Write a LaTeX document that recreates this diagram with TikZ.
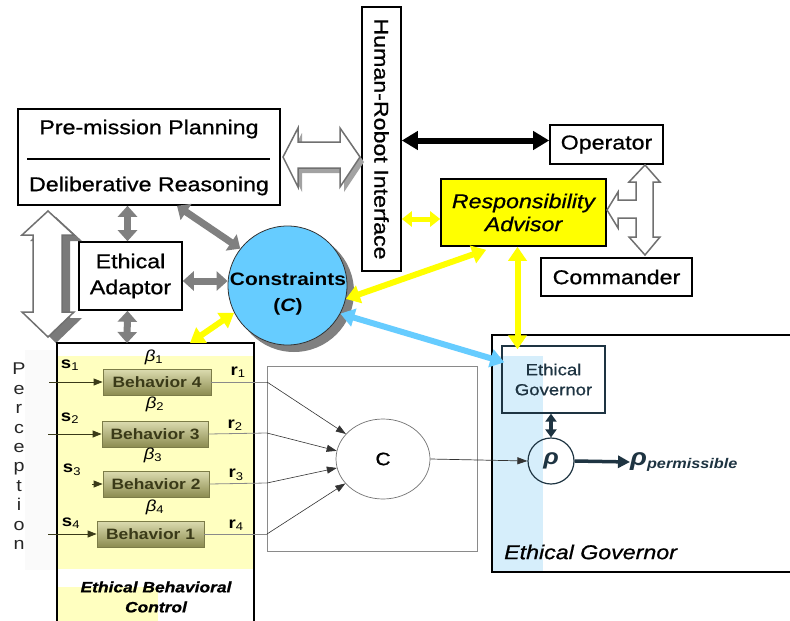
\documentclass[tikz,border=0pt]{standalone}
\usepackage{fontspec}
\setmainfont[FakeStretch=1.16]{Liberation Sans}
\newfontfamily\heavyfont[FakeStretch=1.16,FakeBold=0.8]{Liberation Sans}
\usetikzlibrary{arrows.meta,shapes.geometric,calc}

\definecolor{arrgray}{HTML}{808080}
\definecolor{hollowgray}{HTML}{707070}
\definecolor{shadowgray}{HTML}{7A7A7A}
\definecolor{consblue}{HTML}{66CCFF}
\definecolor{stripblue}{HTML}{D6EEFB}
\definecolor{egdark}{HTML}{1E3442}
\definecolor{ebcyellow}{HTML}{FFFFC0}
\definecolor{behtop}{HTML}{DCDCB0}
\definecolor{behbot}{HTML}{8C8C50}
\definecolor{behline}{HTML}{7C7C48}
\definecolor{behtext}{HTML}{3A3A18}
\definecolor{advyellow}{HTML}{FFFF00}
\definecolor{wirgray}{HTML}{8A8A8A}

\newcommand\labfont{\heavyfont\fontsize{20}{24}\selectfont}
\newcommand\midfont{\heavyfont\fontsize{16}{19}\selectfont}

\tikzset{
  box/.style={draw=black, line width=1.6pt, fill=white, inner sep=0pt},
  lbl/.style={inner sep=0pt, font=\labfont},
  grayarr/.style={draw=arrgray, line width=7pt,
    {Triangle[width=19pt,length=11pt]}-{Triangle[width=19pt,length=11pt]}},
  blackarr/.style={draw=black, line width=6pt,
    {Triangle[width=18pt,length=16pt]}-{Triangle[width=18pt,length=16pt]}},
  yelarr/.style={draw=advyellow, line width=6pt,
    {Triangle[width=18pt,length=14pt]}-{Triangle[width=18pt,length=14pt]}},
  smallyel/.style={draw=advyellow, line width=5pt,
    {Triangle[width=15pt,length=10pt]}-{Triangle[width=15pt,length=10pt]}},
  bluearr/.style={draw=consblue, line width=6pt,
    {Triangle[width=18pt,length=14pt]}-{Triangle[width=18pt,length=14pt]}},
  behbox/.style={draw=behline, line width=0.8pt, top color=behtop,
    bottom color=behbot, minimum height=26pt, inner sep=0pt,
    font=\fontsize{15}{18}\selectfont\bfseries, text=behtext},
  inwire/.style={draw=behtext, line width=0.8pt,
    -{Triangle[width=7pt,length=9pt]}},
  sumwire/.style={draw=black!80, line width=0.6pt,
    -{Triangle[width=7pt,length=10pt]}},
  hollow/.style={fill=white, draw=hollowgray, line width=1.5pt, line join=miter},
  sublbl/.style={inner sep=0pt, font=\fontsize{16}{19}\selectfont},
}

\begin{document}
\begin{tikzpicture}[x=1pt,y=-1pt]
\useasboundingbox (0,0) rectangle (790,621);
\fill[white] (0,0) rectangle (790,621);

% ---------- upper layer boxes ----------
\node[box, minimum width=262pt, minimum height=96pt] (plan) at (149,157) {};
\node[lbl] (plantop) at (149,129) {Pre-mission Planning};
\node[lbl] (planbot) at (149,186) {Deliberative Reasoning};
\draw[line width=2pt] (27,159) -- (270,159);

\node[box, minimum width=39pt, minimum height=264pt] (hri) at (381.5,139) {};
\node[lbl, rotate=-90] (hritxt) at (hri.center) {Human-Robot Interface};

\node[box, minimum width=113pt, minimum height=39pt, font=\labfont] (oper) at (606.5,144.5) {Operator};
\node[box, minimum width=151pt, minimum height=38pt, font=\labfont] (comm) at (616.5,277) {Commander};
\node[box, fill=advyellow, minimum width=165pt, minimum height=67pt,
      align=center, font=\labfont\itshape] (adv) at (523.5,212.5)
      {Responsibility\\[-1pt]Advisor};

\node[box, minimum width=103pt, minimum height=68pt, align=center,
      font=\labfont] (ea) at (130.5,276) {Ethical\\[2pt]Adaptor};

% ---------- hollow block arrows ----------
\fill[shadowgray!70] (287,162) -- (302,133) -- (302,147) -- (344,147) -- (344,133)
   -- (364,162) -- (344,192) -- (344,173) -- (302,173) -- (302,192) -- cycle;
\path[hollow] (283,157) -- (298,128) -- (298,142) -- (340,142) -- (340,128)
   -- (360,157) -- (340,187) -- (340,168) -- (298,168) -- (298,187) -- cycle;

\fill[shadowgray] (56,217) -- (82,241) -- (70,241) -- (70,318) -- (82,318)
   -- (56,343) -- (30,318) -- (41,318) -- (41,241) -- (30,241) -- cycle;
\path[hollow] (48,211) -- (74,235) -- (62,235) -- (62,312) -- (74,312)
   -- (48,337) -- (22,312) -- (33,312) -- (33,235) -- (22,235) -- cycle;

\path[hollow] (645,165) -- (660,182) -- (653,182) -- (653,237) -- (660,237)
   -- (645,255) -- (629,237) -- (636,237) -- (636,218) -- (618,218)
   -- (618,228) -- (607,210) -- (618,192) -- (618,200) -- (636,200)
   -- (636,182) -- (629,182) -- cycle;

% ---------- constraints ----------
\fill[arrgray] (294,292) circle (60);
\node[circle, draw=black!80, line width=0.8pt, fill=consblue,
      minimum size=119pt, inner sep=0pt] (cons) at (287.5,285.5) {};
\node[align=center, inner sep=0pt, font=\fontsize{18}{26}\selectfont\bfseries]
      (constxt) at (288,294) {Constraints\\(\textit{C})};

% ---------- ethical behavioral control ----------
\fill[black!2] (25,350) rectangle (57,570);
\fill[ebcyellow] (57,356) rectangle (254,569);
\fill[ebcyellow] (58,587) rectangle (158,625);
\draw[line width=2pt] (57,630) -- (57,343) -- (254,343) -- (254,630);
\coordinate (ebctop) at (127,343);
\coordinate (ebcyel) at (190,343);
\node[align=center, inner sep=0pt, font=\heavyfont\fontsize{15}{20}\selectfont\bfseries\itshape]
      (ebctxt) at (156,597) {Ethical Behavioral\\Control};

\node[anchor=north, align=center, inner sep=0pt, text=black!85,
      font=\fontsize{17}{19.4}\selectfont] (perc) at (19,363)
      {P\\e\\r\\c\\e\\p\\t\\i\\o\\n};

\node[behbox, minimum width=108pt] (b4) at (157,382) {Behavior 4};
\node[behbox, minimum width=106pt] (b3) at (155,434) {Behavior 3};
\node[behbox, minimum width=106pt] (b2) at (156,484) {Behavior 2};
\node[behbox, minimum width=107pt] (b1) at (150.5,534) {Behavior 1};

\coordinate (in4) at (49,382);
\coordinate (in3) at (48,434);
\coordinate (in2) at (92,484);
\coordinate (in1) at (48,534);
\draw[inwire] (in4) -- (b4.west);
\draw[inwire] (in3) -- (b3.west);
\draw[inwire] (in2) -- (b2.west);
\draw[inwire] (in1) -- (b1.west);

\node[sublbl] (s1) at (70,365) {\textbf{s}\textsubscript{1}};
\node[sublbl] (s2) at (70,418) {\textbf{s}\textsubscript{2}};
\node[sublbl] (s3) at (72,470) {\textbf{s}\textsubscript{3}};
\node[sublbl] (s4) at (71,523) {\textbf{s}\textsubscript{4}};
\node[sublbl] (be1) at (154,357) {\textit{β}\textsubscript{1}};
\node[sublbl] (be2) at (155,404) {\textit{β}\textsubscript{2}};
\node[sublbl] (be3) at (153,455) {\textit{β}\textsubscript{3}};
\node[sublbl] (be4) at (155,507) {\textit{β}\textsubscript{4}};
\node[sublbl] (r1) at (238,372) {\textbf{r}\textsubscript{1}};
\node[sublbl] (r2) at (235,425) {\textbf{r}\textsubscript{2}};
\node[sublbl] (r3) at (236,475) {\textbf{r}\textsubscript{3}};
\node[sublbl] (r4) at (236,525) {\textbf{r}\textsubscript{4}};

% ---------- coordination box ----------
\node[draw=wirgray, line width=0.8pt, minimum width=210pt, minimum height=185pt,
      inner sep=0pt] (coord) at (372,458.5) {};
\node[ellipse, draw=black!55, line width=0.7pt, minimum width=94pt,
      minimum height=80pt, inner sep=0pt, font=\heavyfont\fontsize{18}{20}\selectfont]
      (cnode) at (383,459) {C};
\coordinate (o4) at (267,382);
\coordinate (o3) at (267,433);
\coordinate (o2) at (267,483);
\coordinate (o1) at (267,534);
\draw[draw=wirgray, line width=0.8pt] (b4.east) -- (o4);
\draw[draw=wirgray, line width=0.8pt] (b3.east) -- (o3);
\draw[draw=wirgray, line width=0.8pt] (b2.east) -- (o2);
\draw[draw=wirgray, line width=0.8pt] (b1.east) -- (o1);
\draw[sumwire] (o4) -- (cnode.146);
\draw[sumwire] (o3) -- (cnode.170);
\draw[sumwire] (o2) -- (cnode.191);
\draw[sumwire] (o1) -- (cnode.213);

% ---------- ethical governor ----------
\fill[stripblue] (493,356) rectangle (543,572);
\draw[line width=2pt] (800,335) -- (492,335) -- (492,572) -- (800,572);
\node[draw=egdark, line width=1.4pt, minimum width=103pt, minimum height=67pt,
      inner sep=0pt, align=center, text=egdark, font=\midfont]
      (egs) at (553.5,379.5) {Ethical\\[1pt]Governor};
\node[circle, draw=egdark, line width=1.2pt, minimum size=46pt, inner sep=0pt,
      text=egdark, font=\fontsize{22}{24}\selectfont\bfseries\itshape]
      (rho) at (551,461) {ρ};
\node[anchor=west, inner sep=0pt, text=egdark,
      font=\fontsize{24}{26}\selectfont\bfseries\itshape]
      (rperm) at (630,462) {ρ{\fontsize{14}{15}\selectfont\raisebox{-3pt}{permissible}}};
\node[anchor=west, inner sep=0pt, font=\labfont\itshape]
      (egtxt) at (504,552) {Ethical Governor};

\draw[draw=black!80, line width=0.7pt, -{Triangle[width=7pt,length=10pt]}]
      (cnode.east) -- (rho.west);
\draw[draw=egdark, line width=3.5pt, -{Triangle[width=12pt,length=12pt]}]
      (rho.east) -- (rperm.west);
\draw[draw=egdark, line width=3.5pt,
      {Triangle[width=11pt,length=8pt]}-{Triangle[width=11pt,length=8pt]}]
      (rho.north) -- (rho.north |- egs.south);

% ---------- connectors ----------
\coordinate (eaup) at ($(ea.north)+(-3,0)$);
\coordinate (eadown) at ($(ea.south)+(-3,0)$);
\coordinate (easide) at ($(ea.east)+(0,5)$);
\coordinate (planfoot) at ($(plan.south)+(28,0)$);
\draw[grayarr] (eaup) -- (eaup |- plan.south);
\draw[grayarr] (eadown) -- (ebctop);
\draw[grayarr] (easide) -- (cons.west |- easide);
\draw[grayarr] (planfoot) -- (cons.142);

\coordinate (hriop) at ($(hri.east |- oper.west)+(0,-4)$);
\coordinate (opin) at ($(oper.west)+(0,-4)$);
\draw[blackarr] (hriop) -- (opin);

\coordinate (advin) at ($(adv.west)+(0,6.5)$);
\coordinate (hriadv) at (hri.east |- advin);
\draw[smallyel] (hriadv) -- (advin);
\coordinate (advfoot) at ($(adv.south west)+(46,3)$);
\draw[yelarr] (advfoot) -- (cons.-13);
\draw[yelarr] (cons.207) -- (ebcyel);
\coordinate (advdown) at ($(adv.south)+(-6,0)$);
\coordinate (egsin) at ($(advdown |- egs.north)+(0,4)$);
\draw[yelarr] (advdown) -- (egsin);

\coordinate (egsblue) at ($(egs.north west)+(3,17)$);
\draw[bluearr] (cons.-28) -- (egsblue);
\end{tikzpicture}
\end{document}
